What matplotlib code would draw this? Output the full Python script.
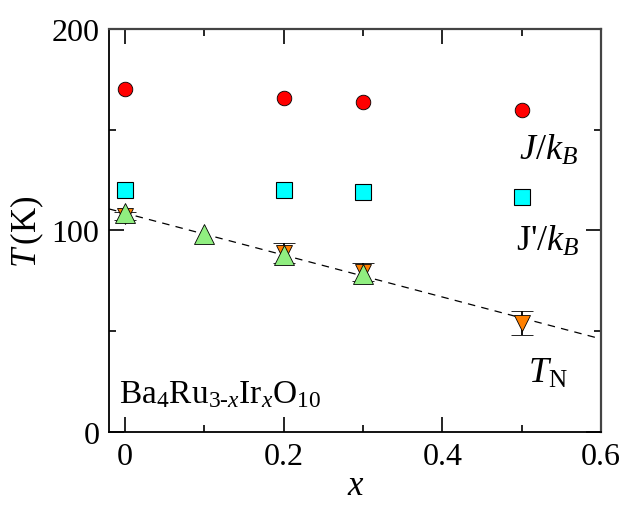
import matplotlib.pyplot as plt
from matplotlib.ticker import MultipleLocator

plt.rcParams['font.family'] = ['Liberation Serif', 'DejaVu Serif']
plt.rcParams['mathtext.fontset'] = 'custom'
plt.rcParams['mathtext.rm'] = 'Liberation Serif'
plt.rcParams['mathtext.it'] = 'Liberation Serif:italic'

# Exchange couplings and Neel temperature vs Ir content

x_J = [0.0, 0.2, 0.3, 0.5]
J_kB = [170.2, 165.7, 163.8, 160.0]

x_Jp = [0.0, 0.2, 0.3, 0.5]
Jp_kB = [120.1, 120.0, 119.2, 116.8]

x_up = [0.0, 0.1, 0.2, 0.3]
T_up = [108.7, 98.4, 88.0, 78.6]

x_TN = [0.0, 0.2, 0.3, 0.5]
T_N = [107.0, 89.0, 79.5, 54.3]
T_N_err = [2.0, 5.0, 4.5, 6.0]

fit_x = [-0.02, 0.6]
fit_T = [110.7, 46.2]

fig = plt.figure(figsize=(6.23, 5.06), dpi=100)
ax = fig.add_axes([0.175, 0.144, 0.79, 0.797])

ax.plot(fit_x, fit_T, '--', color='black', lw=0.9, dashes=(6, 5), zorder=1)

ax.errorbar(x_TN, T_N, yerr=T_N_err, fmt='v', color='black', ecolor='black',
            mfc='#ff8000', mec='black', mew=0.6, ms=12, capsize=8,
            elinewidth=1.3, capthick=1.3, zorder=2)
ax.plot(x_up, T_up, '^', mfc='#90ee80', mec='black', mew=0.6, ms=14, zorder=3)
ax.plot(x_Jp, Jp_kB, 's', mfc='#00ffff', mec='black', mew=0.8, ms=11, zorder=3)
ax.plot(x_J, J_kB, 'o', mfc='#ff0000', mec='black', mew=0.6, ms=10.5, zorder=3)

ax.set_xlim(-0.02, 0.6)
ax.set_ylim(0, 200)
ax.xaxis.set_major_locator(MultipleLocator(0.2))
ax.xaxis.set_minor_locator(MultipleLocator(0.1))
ax.yaxis.set_major_locator(MultipleLocator(100))
ax.yaxis.set_minor_locator(MultipleLocator(50))
ax.set_xticks([0, 0.2, 0.4, 0.6], ['0', '0.2', '0.4', '0.6'])
ax.tick_params(which='both', direction='in', top=True, right=True,
               labelsize=23, width=1.2)
ax.tick_params(which='major', length=11, pad=7)
ax.tick_params(which='minor', length=5)

for side in ['left', 'bottom']:
    ax.spines[side].set_linewidth(1.3)
for side in ['top', 'right']:
    ax.spines[side].set_linewidth(1.6)
    ax.spines[side].set_color('#444444')

ax.set_xlabel('x', fontsize=25, style='italic', labelpad=-1)
ax.set_ylabel(r'$T\,$(K)', fontsize=25, labelpad=4)

ax.text(0.533, 140, r'$J/k_B$', fontsize=26, ha='center', va='center')
ax.text(0.533, 95, r"J'/$k_B$", fontsize=26, ha='center', va='center')
ax.text(0.533, 29, r'$T_{\mathrm{N}}$', fontsize=26, ha='center', va='center')
ax.text(-0.008, 19, r'Ba$_4$Ru$_{3\text{-}x}$Ir$_x$O$_{10}$', fontsize=24,
        ha='left', va='center')

fig.savefig('out.png', dpi=100)
